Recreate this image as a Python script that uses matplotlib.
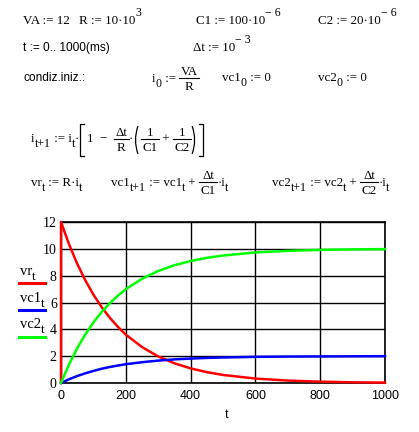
import matplotlib
matplotlib.use("Agg")
import matplotlib.pyplot as plt
from matplotlib.lines import Line2D
from matplotlib.path import Path
from matplotlib.patches import PathPatch

# values
t = [0, 25, 50, 75, 100, 125, 150, 175, 200, 250, 300, 350, 400, 450, 500,
     600, 700, 800, 900, 1000]
vr = [12.0, 10.33, 8.89, 7.65, 6.59, 5.67, 4.88, 4.20, 3.61, 2.68, 1.98, 1.47,
      1.09, 0.81, 0.60, 0.33, 0.18, 0.10, 0.05, 0.03]
vc1 = [0.0, 0.28, 0.52, 0.72, 0.90, 1.06, 1.19, 1.30, 1.40, 1.55, 1.67, 1.76,
       1.82, 1.87, 1.90, 1.95, 1.97, 1.98, 1.99, 2.0]
vc2 = [0.0, 1.39, 2.59, 3.62, 4.51, 5.28, 5.93, 6.50, 6.99, 7.77, 8.35, 8.78,
       9.09, 9.33, 9.50, 9.73, 9.85, 9.92, 9.96, 9.98]
vr_start = [0.0]  # vertical red trace at t = 0
x_ticks = [0, 200, 400, 600, 800, 1000]
y_ticks = [0, 2, 4, 6, 8, 10, 12]
y_tick_labels = ['0', '2', '4', '6', '8', '10', '12']

W, H = 419, 432
fig = plt.figure(figsize=(W / 100, H / 100), dpi=100)
fig.patch.set_facecolor('white')
R_ = fig.canvas.get_renderer()

serif = 'Liberation Serif'
sans = 'Liberation Sans'
FS = 9.4
SUB = 8.6


def put(x, y, s, size=FS, family=serif, ha='left'):
    o = fig.text(x / W, 1 - y / H, s, fontsize=size, family=family,
                 va='baseline', ha=ha, color='black')
    return o, o.get_window_extent(renderer=R_).width


def hline(x0, x1, y, lw=0.8):
    fig.add_artist(Line2D([x0 / W, x1 / W], [1 - y / H, 1 - y / H], color='black',
                          linewidth=lw, transform=fig.transFigure))


def poly(pts, lw=0.9):
    xs = [p[0] / W for p in pts]
    ys = [1 - p[1] / H for p in pts]
    fig.add_artist(Line2D(xs, ys, color='black', linewidth=lw,
                          transform=fig.transFigure))


class Row:
    def __init__(self, x, base, axis=None):
        self.x = x
        self.base = base
        self.axis = axis if axis is not None else base - 4

    def t(self, s, dy=0, size=FS, family=serif, gap=0.0):
        _, w = put(self.x, self.base + dy, s, size, family)
        self.x += w + gap
        return self

    def sub(self, s):
        return self.t(s, dy=5, size=SUB)

    def sup(self, s):
        return self.t(s, dy=-8, size=SUB)

    def frac(self, num, den, pad=1.5):
        o1 = fig.text(0, 0, num, fontsize=FS, family=serif)
        o2 = fig.text(0, 0, den, fontsize=FS, family=serif)
        w1 = o1.get_window_extent(renderer=R_).width
        w2 = o2.get_window_extent(renderer=R_).width
        o1.remove(); o2.remove()
        w = max(w1, w2) + 2 * pad
        bar = self.axis
        put(self.x + w / 2, bar - 3, num, ha='center')
        put(self.x + w / 2, bar + 12, den, ha='center')
        hline(self.x, self.x + w, bar)
        self.x += w
        return self

    def square(self, side, top, bot, gap=3):
        x = self.x + (1 if side == 'l' else 0)
        if side == 'l':
            poly([(x + 4, top), (x, top), (x, bot), (x + 4, bot)])
        else:
            poly([(x, top), (x + 4, top), (x + 4, bot), (x, bot)])
        self.x += 5 + gap
        return self

    def paren(self, side, top, bot, gap=2):
        x = self.x + 1
        mid = (top + bot) / 2
        if side == 'l':
            pts = [(x + 4, top), (x - 1, mid), (x + 4, bot)]
        else:
            pts = [(x, top), (x + 5, mid), (x, bot)]
        verts = [(p[0] / W, 1 - p[1] / H) for p in pts]
        fig.add_artist(PathPatch(Path(verts, [Path.MOVETO, Path.CURVE3, Path.CURVE3]),
                                 facecolor='none', edgecolor='black', linewidth=0.9,
                                 transform=fig.transFigure))
        self.x += 6 + gap
        return self


AS = ' := '
# Row 1
Row(23, 24).t('VA' + AS + '12')
Row(79, 24).t('R' + AS + '10·10').sup('3')
Row(196, 24).t('C1' + AS + '100·10').sup('− 6')
Row(318, 24).t('C2' + AS + '20·10').sup('− 6')
# Row 2
Row(23, 51).t('t := 0.. 1000(ms)', size=8.6, family=sans)
Row(193, 51).t('Δt' + AS + '10').sup('− 3')
# Row 3
Row(23, 81).t('condiz.iniz.:', size=8.6, family=sans)
Row(152, 82, axis=78).t('i').sub('0').t(AS).frac('VA', 'R')
Row(222, 81).t('vc1').sub('0').t(AS + '0')
Row(318, 81).t('vc2').sub('0').t(AS + '0')
# Row 4
r4 = Row(31, 142, axis=139)
r4.t('i').sub('t+1').t(AS + 'i').sub('t').t('·').square('l', 124, 156)
r4.t('1  −  ').frac('Δt', 'R').t('·').paren('l', 126, 154).frac('1', 'C1')
r4.t(' + ').frac('1', 'C2').paren('r', 126, 154).square('r', 124, 156)
# Row 5
Row(31, 186).t('vr').sub('t').t(AS + 'R·i').sub('t')
r5 = Row(111, 186, axis=182)
r5.t('vc1').sub('t+1').t(AS + 'vc1').sub('t').t(' + ').frac('Δt', 'C1').t('·i').sub('t')
r6 = Row(272, 186, axis=182)
r6.t('vc2').sub('t+1').t(AS + 'vc2').sub('t').t(' + ').frac('Δt', 'C2').t('·i').sub('t')

# Plot
left, right, top, bottom = 61, 385, 222, 383
ax = fig.add_axes([left / W, 1 - bottom / H, (right - left) / W, (bottom - top) / H])
ax.set_xlim(0, 1000)
ax.set_ylim(0, 12)
ax.set_xticks(x_ticks)
ax.set_yticks(y_ticks)
ax.set_yticklabels(y_tick_labels)
ax.grid(True, color='black', linewidth=1.0)
for s in ax.spines.values():
    s.set_color('black')
    s.set_linewidth(1.2)
ax.tick_params(length=0)
ax.tick_params(axis='y', pad=3)
ax.tick_params(axis='x', pad=5)
for lab in ax.get_xticklabels():
    lab.set_family(sans)
    lab.set_fontsize(9)
for lab in ax.get_yticklabels():
    lab.set_family(serif)
    lab.set_fontsize(10)

ax.plot([t[0]] + t, vr_start + vr, color='#ff0000', linewidth=1.8, clip_on=False, zorder=5)
ax.plot(t, vc1, color='#0000ff', linewidth=1.8, clip_on=False, zorder=5)
ax.plot(t, vc2, color='#00ff00', linewidth=1.8, clip_on=False, zorder=5)


# Legend (left side)
def leg(y_text, y_line, name, c):
    x = 20
    _, w = put(x, y_text, name, size=10.5)
    put(x + w, y_text + 5, 't', size=9.5)
    fig.add_artist(Line2D([19 / W, 45 / W], [1 - y_line / H, 1 - y_line / H],
                          color=c, linewidth=2.2, transform=fig.transFigure))


leg(275, 283, 'vr', '#ff0000')
leg(302, 310, 'vc1', '#0000ff')
leg(328, 337, 'vc2', '#00ff00')

put(225, 418, 't', size=9, family=sans)

fig.savefig('out.png', dpi=100, facecolor='white')
